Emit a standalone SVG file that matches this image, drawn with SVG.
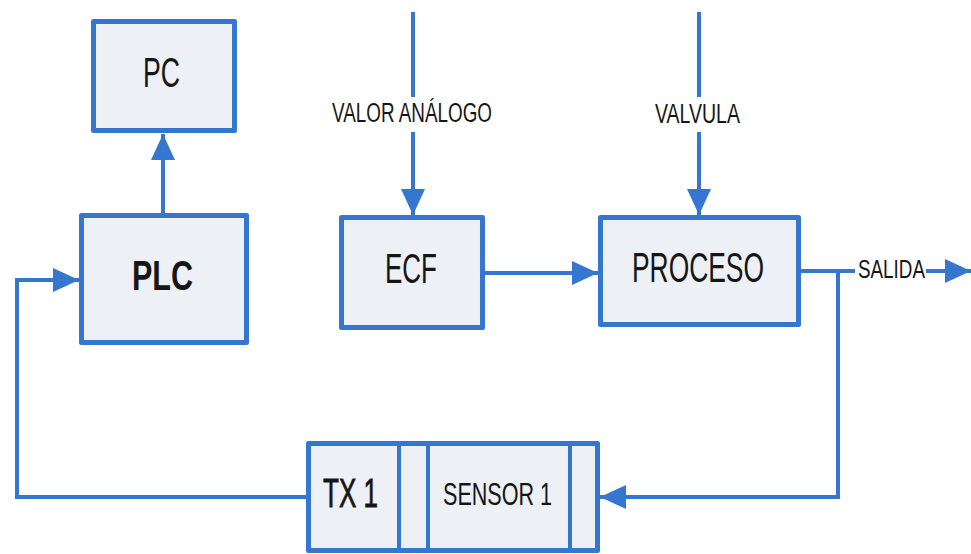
<svg xmlns="http://www.w3.org/2000/svg" width="971" height="554" viewBox="0 0 971 554">
  <style>
    .box { fill: #edf0f5; stroke: #3576cf; stroke-width: 5; stroke-linejoin: round; }
    .div { stroke: #3576cf; stroke-width: 4; }
    .wire { fill: none; stroke: #3576cf; stroke-width: 4; }
    .lbl { font-family: "Liberation Sans", Arial, sans-serif; fill: #161616; }
  </style>
  <defs>
    <marker id="head" markerUnits="userSpaceOnUse" markerWidth="26" markerHeight="24" refX="26" refY="12" orient="auto">
      <path d="M0,0 L26,12 L0,24 z" fill="#3576cf"/>
    </marker>
  </defs>
  <rect width="971" height="554" fill="#ffffff"/>

  <g id="connectors">
    <path class="wire" d="M163,213 L163,134" marker-end="url(#head)"/>
    <path class="wire" d="M306,497 L17,497 L17,280 L79,280" marker-end="url(#head)"/>
    <path class="wire" d="M413,12 L413,97"/>
    <path class="wire" d="M413,132 L413,215" marker-end="url(#head)"/>
    <path class="wire" d="M699,12 L699,97"/>
    <path class="wire" d="M699,132 L699,215" marker-end="url(#head)"/>
    <path class="wire" d="M485,273 L598,273" marker-end="url(#head)"/>
    <path class="wire" d="M801,271 L855,271"/>
    <path class="wire" d="M926,271 L971,271" marker-end="url(#head)"/>
    <path class="wire" d="M838,271 L838,497 L600,497" marker-end="url(#head)"/>
    <text class="lbl" x="332" y="122" font-size="27" textLength="160" lengthAdjust="spacingAndGlyphs">VALOR ANÁLOGO</text>
    <text class="lbl" x="655" y="123" font-size="27" textLength="85" lengthAdjust="spacingAndGlyphs">VALVULA</text>
    <text class="lbl" x="858" y="278" font-size="25" textLength="67" lengthAdjust="spacingAndGlyphs">SALIDA</text>
  </g>

  <g id="pc">
    <rect class="box" x="93.5" y="21.5" width="141" height="109"/>
    <text class="lbl" x="143" y="87" font-size="43" textLength="37" lengthAdjust="spacingAndGlyphs">PC</text>
  </g>

  <g id="plc">
    <rect class="box" x="81.5" y="215.5" width="165" height="127"/>
    <text class="lbl" x="132" y="290" font-size="42" font-weight="bold" textLength="61" lengthAdjust="spacingAndGlyphs">PLC</text>
  </g>

  <g id="ecf">
    <rect class="box" x="341.5" y="217.5" width="141" height="110"/>
    <text class="lbl" x="385" y="283" font-size="42" textLength="52" lengthAdjust="spacingAndGlyphs">ECF</text>
  </g>

  <g id="proceso">
    <rect class="box" x="600.5" y="217.5" width="198" height="107"/>
    <text class="lbl" x="632" y="282" font-size="42" textLength="132" lengthAdjust="spacingAndGlyphs">PROCESO</text>
  </g>

  <g id="sensor">
    <rect class="box" x="308.5" y="443.5" width="289" height="107"/>
    <line class="div" x1="399" y1="442" x2="399" y2="552"/>
    <line class="div" x1="428" y1="442" x2="428" y2="552"/>
    <line class="div" x1="570" y1="442" x2="570" y2="552"/>
    <text class="lbl" x="323" y="507" font-size="41" stroke="#161616" stroke-width="0.8" textLength="55" lengthAdjust="spacingAndGlyphs">TX 1</text>
    <text class="lbl" x="443" y="505" font-size="32" textLength="109" lengthAdjust="spacingAndGlyphs">SENSOR 1</text>
  </g>
</svg>
